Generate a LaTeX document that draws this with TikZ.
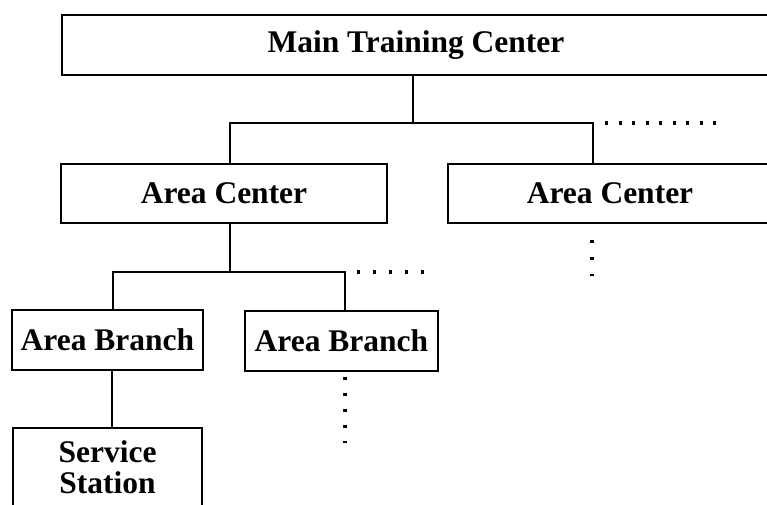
\documentclass[tikz,border=0pt]{standalone}
\usepackage{fontspec}
\setmainfont{Liberation Serif}
\begin{document}
\begin{tikzpicture}[x=1pt,y=-1pt,
  box/.style={draw, line width=2pt, inner sep=0pt, align=center,
    font=\fontsize{31.5}{31}\selectfont\bfseries},
  conn/.style={line width=2.6pt},
  dotrow/.style={line width=3.4pt, dash pattern=on 3.4pt off #1},
  dotrow/.default=13pt]
  % page frame
  \path[use as bounding box, fill=white] (0,0) rectangle (767,504);
  \clip (0,0) rectangle (767,504);

  % boxes
  \node[box, minimum width=708pt, minimum height=60pt] (main) at (416,45) {Main Training Center};
  \node[box, minimum width=326pt, minimum height=59pt] (ac1) at (224,193.5) {Area Center};
  \node[box, minimum width=324pt, minimum height=59pt] (ac2) at (610,193.5) {Area Center};
  \node[box, minimum width=191pt, minimum height=60pt] (ab1) at (107.5,340) {Area Branch};
  \node[box, minimum width=193pt, minimum height=60pt] (ab2) at (341.5,341) {Area Branch};
  \node[box, minimum width=189pt, minimum height=79pt] (ss) at (107.5,467.5) {Service\\Station};

  % junction points
  \coordinate (t1) at (413,123);
  \coordinate (tL) at (230,123);
  \coordinate (tR) at (593,123);
  \coordinate (tE) at (716,123);
  \coordinate (b1) at (230,272);
  \coordinate (bL) at (113,272);
  \coordinate (bR) at (345,272);
  \coordinate (bE) at (424,272);
  \coordinate (s1) at (112,400);
  \coordinate (c2) at (592,276);
  \coordinate (c3) at (345,443);

  % solid connectors
  \draw[conn] (main.south -| t1) -- (t1);
  \draw[conn] (ac1.north -| tL) -- (tL) -- (tR) -- (ac2.north -| tR);
  \draw[conn] (ac1.south -| b1) -- (b1);
  \draw[conn] (ab1.north -| bL) -- (bL) -- (bR) -- (ab2.north -| bR);
  \draw[conn] (ab1.south -| s1) -- (ss.north -| s1);

  % dotted continuations
  \draw[dotrow=10.1pt, shorten <=12pt] (tR) -- (tE);
  \draw[dotrow=12.6pt, shorten <=12pt] (bR) -- (bE);
  \draw[dotrow=13.6pt, shorten <=16pt] (ac2.south -| c2) -- (c2);
  \draw[dotrow=12.6pt, shorten <=5pt] (ab2.south -| c3) -- (c3);
\end{tikzpicture}
\end{document}
